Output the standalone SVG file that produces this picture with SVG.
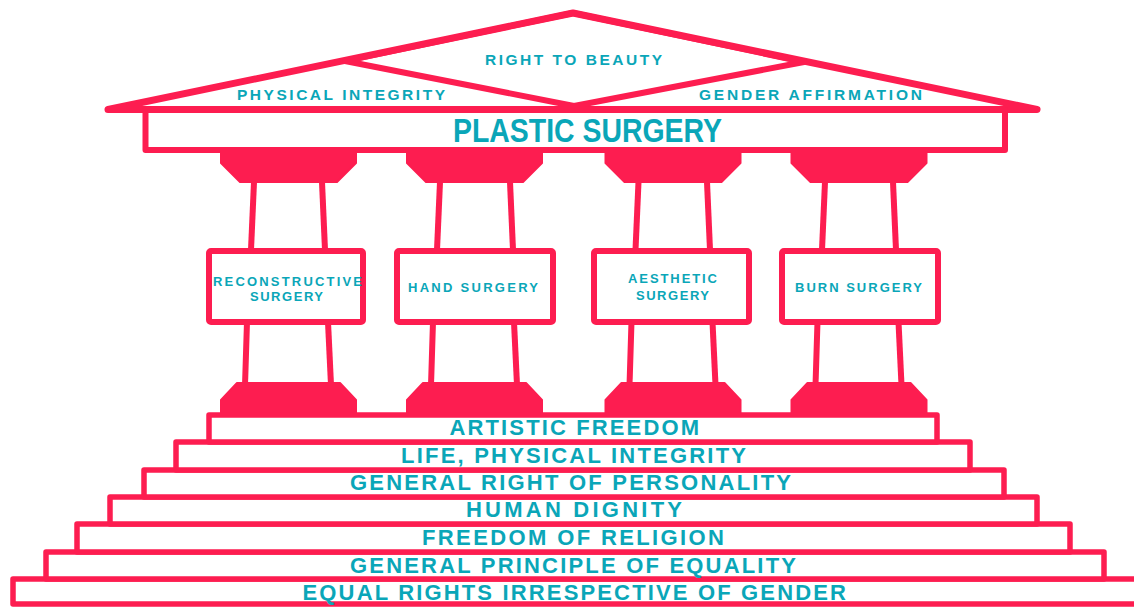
<svg xmlns="http://www.w3.org/2000/svg" width="1134" height="607" viewBox="0 0 1134 607">
<style>
.ln{fill:none;stroke:#fd1d50;stroke-width:6;stroke-linejoin:round;stroke-linecap:butt}
.bx{fill:#fff;stroke:#fd1d50;stroke-width:6;stroke-linejoin:round}
.st{fill:#fff;stroke:#fd1d50;stroke-width:5.5;stroke-linejoin:round}
.fl{fill:#fd1d50;stroke:#fd1d50;stroke-width:2;stroke-linejoin:round}
text{font-family:"Liberation Sans",Arial,sans-serif;font-weight:bold;fill:#0aa6b8}
.roof{font-size:15.5px}
.box{font-size:13px}
.step{font-size:22px}
.title{font-size:33px}
</style>
<rect width="1134" height="607" fill="#fff"/>
<g id="roof">
<polygon class="ln" style="stroke-width:7" points="108,109.5 573,13 1037,109.5"/>
<polygon class="ln" points="345,61 573,13 804,62 574,106"/>
<text class="roof" x="485" y="65" textLength="177" lengthAdjust="spacing">RIGHT TO BEAUTY</text>
<text class="roof" x="237" y="100" textLength="208" lengthAdjust="spacing">PHYSICAL INTEGRITY</text>
<text class="roof" x="699" y="100" textLength="223" lengthAdjust="spacing">GENDER AFFIRMATION</text>
</g>
<g id="entablature">
<rect class="bx" x="145.5" y="110" width="859.5" height="40"/>
<text class="title" x="453" y="142" textLength="269" lengthAdjust="spacingAndGlyphs">PLASTIC SURGERY</text>
</g>
<g id="connectors">
<line class="ln" x1="254" y1="182" x2="251" y2="250"/>
<line class="ln" x1="322" y1="182" x2="325" y2="250"/>
<line class="ln" x1="247" y1="322" x2="245" y2="385"/>
<line class="ln" x1="328" y1="322" x2="331" y2="385"/>
<line class="ln" x1="440" y1="182" x2="437" y2="250"/>
<line class="ln" x1="510" y1="182" x2="513" y2="250"/>
<line class="ln" x1="433" y1="322" x2="431" y2="385"/>
<line class="ln" x1="514" y1="322" x2="517" y2="385"/>
<line class="ln" x1="638.5" y1="182" x2="635.5" y2="250"/>
<line class="ln" x1="707" y1="182" x2="710" y2="250"/>
<line class="ln" x1="631.5" y1="322" x2="629.5" y2="385"/>
<line class="ln" x1="712.5" y1="322" x2="715.5" y2="385"/>
<line class="ln" x1="825" y1="182" x2="822" y2="250"/>
<line class="ln" x1="893" y1="182" x2="896" y2="250"/>
<line class="ln" x1="817.5" y1="322" x2="815.5" y2="385"/>
<line class="ln" x1="898.5" y1="322" x2="901.5" y2="385"/>
</g>
<g id="col-reconstructive">
<polygon class="fl" points="221,152 356,152 356,163 337,182 240,182 221,163"/>
<polygon class="fl" points="237,383 340,383 356,400 356,413 221,413 221,400"/>
<rect class="bx" x="209" y="251" width="154" height="71" rx="2"/>
<text class="box" x="213" y="286" textLength="149" lengthAdjust="spacing">RECONSTRUCTIVE</text>
<text class="box" x="250" y="301" textLength="73" lengthAdjust="spacing">SURGERY</text>
</g>
<g id="col-hand">
<polygon class="fl" points="407,152 542,152 542,163 523,182 426,182 407,163"/>
<polygon class="fl" points="423,383 526,383 542,400 542,413 407,413 407,400"/>
<rect class="bx" x="397" y="251" width="156" height="71" rx="2"/>
<text class="box" x="408" y="292" textLength="130" lengthAdjust="spacing">HAND SURGERY</text>
</g>
<g id="col-aesthetic">
<polygon class="fl" points="605.5,152 740.5,152 740.5,163 721.5,182 624.5,182 605.5,163"/>
<polygon class="fl" points="621.5,383 724.5,383 740.5,400 740.5,413 605.5,413 605.5,400"/>
<rect class="bx" x="594" y="251" width="155" height="71" rx="2"/>
<text class="box" x="628" y="283" textLength="89" lengthAdjust="spacing">AESTHETIC</text>
<text class="box" x="636" y="300" textLength="73" lengthAdjust="spacing">SURGERY</text>
</g>
<g id="col-burn">
<polygon class="fl" points="791.5,152 926.5,152 926.5,163 907.5,182 810.5,182 791.5,163"/>
<polygon class="fl" points="807.5,383 910.5,383 926.5,400 926.5,413 791.5,413 791.5,400"/>
<rect class="bx" x="782" y="251" width="156" height="71" rx="2"/>
<text class="box" x="795" y="292" textLength="127" lengthAdjust="spacing">BURN SURGERY</text>
</g>
<g id="step7">
<rect class="st" x="13" y="579" width="1130" height="25"/>
<text class="step" x="302.5" y="600" textLength="543.5" lengthAdjust="spacing">EQUAL RIGHTS IRRESPECTIVE OF GENDER</text>
</g>
<g id="step6">
<rect class="st" x="46" y="552" width="1058" height="27"/>
<text class="step" x="350" y="573" textLength="446" lengthAdjust="spacing">GENERAL PRINCIPLE OF EQUALITY</text>
</g>
<g id="step5">
<rect class="st" x="77" y="524" width="993" height="28"/>
<text class="step" x="422" y="545" textLength="302" lengthAdjust="spacing">FREEDOM OF RELIGION</text>
</g>
<g id="step4">
<rect class="st" x="110" y="497" width="927" height="27"/>
<text class="step" x="466" y="517" textLength="216" lengthAdjust="spacing">HUMAN DIGNITY</text>
</g>
<g id="step3">
<rect class="st" x="144" y="470" width="860" height="27"/>
<text class="step" x="350" y="490" textLength="441" lengthAdjust="spacing">GENERAL RIGHT OF PERSONALITY</text>
</g>
<g id="step2">
<rect class="st" x="176" y="442" width="794" height="28"/>
<text class="step" x="401" y="463" textLength="345" lengthAdjust="spacing">LIFE, PHYSICAL INTEGRITY</text>
</g>
<g id="step1">
<rect class="st" x="209" y="415" width="728" height="27"/>
<text class="step" x="449.5" y="435" textLength="249.5" lengthAdjust="spacing">ARTISTIC FREEDOM</text>
</g>
</svg>
